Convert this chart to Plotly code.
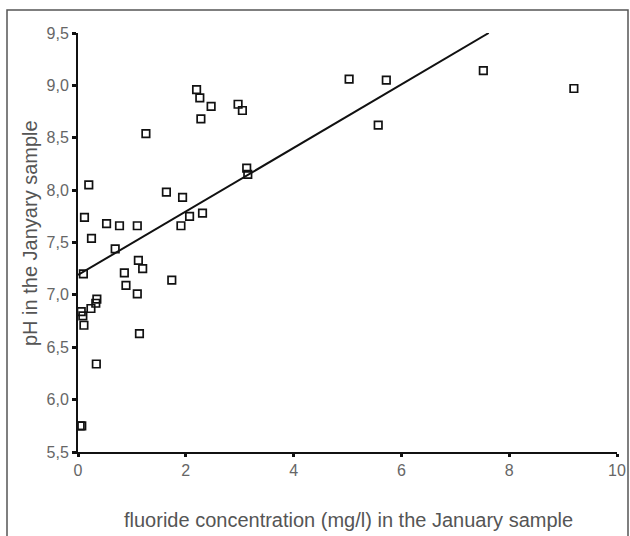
import plotly.graph_objects as go

fluoride = [0.04, 0.07, 0.34, 0.06, 0.09, 0.11, 0.24, 0.33, 0.35, 1.14,
            0.10, 0.86, 0.89, 1.10, 1.12, 1.20, 1.74, 0.69, 0.25, 0.12,
            0.53, 0.77, 1.10, 0.20, 1.64, 1.94, 1.91, 2.07, 2.31, 1.26,
            2.20, 2.26, 2.47, 2.28, 2.97, 3.05, 3.13, 3.15, 5.03, 5.72,
            5.57, 7.52, 9.20]
ph = [5.75, 5.75, 6.34, 6.84, 6.80, 6.71, 6.87, 6.92, 6.96, 6.63,
      7.20, 7.21, 7.09, 7.01, 7.33, 7.25, 7.14, 7.44, 7.54, 7.74,
      7.68, 7.66, 7.66, 8.05, 7.98, 7.93, 7.66, 7.75, 7.78, 8.54,
      8.96, 8.88, 8.80, 8.68, 8.82, 8.76, 8.21, 8.15, 9.06, 9.05,
      8.62, 9.14, 8.97]

trend_x = [0.0, 7.62]
trend_y = [7.19, 9.50]

x_ticks = [0, 2, 4, 6, 8, 10]
x_labels = ["0", "2", "4", "6", "8", "10"]
y_ticks = [5.5, 6.0, 6.5, 7.0, 7.5, 8.0, 8.5, 9.0, 9.5]
y_labels = ["5,5", "6,0", "6,5", "7,0", "7,5", "8,0", "8,5", "9,0", "9,5"]

W, H = 630, 536
L, R, T, B = 78, 13, 33, 84
PW, PH = W - L - R, H - T - B

fig = go.Figure()
fig.add_trace(go.Scatter(x=trend_x, y=trend_y, mode="lines",
                         line=dict(color="#111", width=2), showlegend=False,
                         hoverinfo="skip"))
fig.add_trace(go.Scatter(x=fluoride, y=ph, mode="markers",
                         marker=dict(symbol="square-open", size=7.5,
                                     color="#111", line=dict(width=1.7, color="#111")),
                         showlegend=False))

font_color = "#666"
fig.update_layout(
    width=W, height=H,
    margin=dict(l=L, r=R, t=T, b=B, pad=0, autoexpand=False),
    paper_bgcolor="white", plot_bgcolor="white",
    font=dict(family="Liberation Sans, Arial, sans-serif", size=16, color=font_color),
    xaxis=dict(range=[0, 10], tickvals=x_ticks, ticktext=x_labels, automargin=False,
               showgrid=False, zeroline=False, showline=True, linecolor="#111",
               linewidth=2, ticks="outside", ticklen=3, tickwidth=3, tickcolor="#111",
               tickfont=dict(size=16, color=font_color)),
    yaxis=dict(range=[5.5, 9.5], tickvals=y_ticks, ticktext=y_labels, automargin=False,
               showgrid=False, zeroline=False, showline=True, linecolor="#111",
               linewidth=2, ticks="outside", ticklen=4, tickwidth=3, tickcolor="#111",
               tickfont=dict(size=16, color=font_color)),
    shapes=[dict(type="rect", xref="paper", yref="paper",
                 x0=(7 - L) / PW, x1=(628 - L) / PW,
                 y0=-(H + 5 - (H - B)) / PH, y1=(H - B - 10) / PH,
                 line=dict(color="#555", width=1.5), fillcolor="rgba(0,0,0,0)",
                 layer="below")],
    annotations=[
        dict(text="fluoride concentration (mg/l) in the January sample",
             xref="paper", yref="paper",
             x=(348 - L) / PW, y=-(520 - (H - B)) / PH,
             showarrow=False, font=dict(size=20, color="#555"),
             xanchor="center", yanchor="middle"),
        dict(text="pH in the Janyary sample",
             xref="paper", yref="paper",
             x=-(L - 30) / PW, y=(H - B - 233) / PH,
             showarrow=False, textangle=-90, font=dict(size=20, color="#555"),
             xanchor="center", yanchor="middle"),
    ],
)

fig.write_html("out.html")
